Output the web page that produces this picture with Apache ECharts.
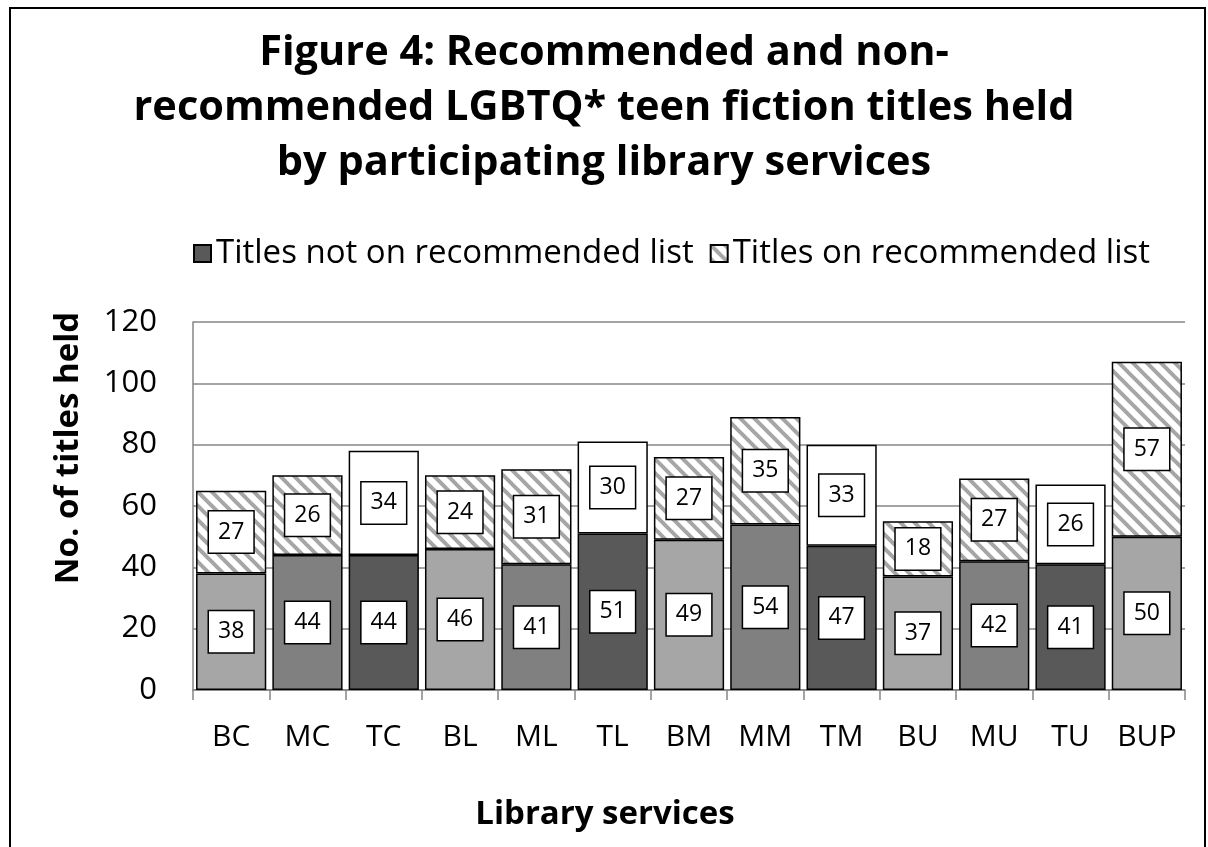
<!DOCTYPE html>
<html>
<head>
<meta charset="utf-8">
<script src="https://cdn.jsdelivr.net/npm/echarts@6/dist/echarts.min.js"></script>
<style>
  html, body { margin: 0; padding: 0; background: #fff; }
  #chart { width: 1208px; height: 847px; }
</style>
</head>
<body>
<div id="chart"></div>
<script>
// data
const categories = ["BC", "MC", "TC", "BL", "ML", "TL", "BM", "MM", "TM", "BU", "MU", "TU", "BUP"];
const notRecommended = [38, 44, 44, 46, 41, 51, 49, 54, 47, 37, 42, 41, 50];
const recommended = [27, 26, 34, 24, 31, 30, 27, 35, 33, 18, 27, 26, 57];
const yTicks = [0, 20, 40, 60, 80, 100, 120];

const FONT = "Open Sans";
const shades = { B: "#a6a6a6", M: "#808080", T: "#595959" };

// diagonal stripe fill for the top segments
function makeHatch() {
  const size = 14;
  const c = document.createElement("canvas");
  c.width = size;
  c.height = size;
  const ctx = c.getContext("2d");
  ctx.fillStyle = "#fff";
  ctx.fillRect(0, 0, size, size);
  ctx.strokeStyle = "#a6a6a6";
  ctx.lineWidth = 4;
  for (let x = -size; x <= size; x += size) {
    ctx.beginPath();
    ctx.moveTo(x - 2, -2);
    ctx.lineTo(x + size + 2, size + 2);
    ctx.stroke();
  }
  return c;
}
const hatch = { image: makeHatch(), repeat: "repeat" };

const labelStyle = {
  show: true,
  position: "inside",
  color: "#000",
  fontFamily: FONT,
  fontSize: 23,
  lineHeight: 23,
  backgroundColor: "#fff",
  borderColor: "#000",
  borderWidth: 1.5,
  padding: [9, 9, 9, 9],
};

var myChart = echarts.init(document.getElementById("chart"));
myChart.setOption({
  animation: false,
  backgroundColor: "#fff",
  title: {
    text: "Figure 4: Recommended and non-\nrecommended LGBTQ* teen fiction titles held\nby participating library services",
    left: "center",
    top: 21,
    textStyle: {
      fontFamily: FONT,
      fontWeight: "bold",
      fontSize: 41.5,
      lineHeight: 55,
      color: "#000",
    },
  },
  legend: {
    top: 232,
    left: 188,
    itemWidth: 17,
    itemHeight: 17,
    itemGap: 16,
    icon: "rect",
    textStyle: { fontFamily: FONT, fontSize: 33, color: "#000" },
    data: ["Titles not on recommended list", "Titles on recommended list"],
  },
  graphic: [
    {
      type: "rect",
      shape: { x: 10, y: 8, width: 1195, height: 900 },
      style: { fill: null, stroke: "#000", lineWidth: 2 },
      silent: true,
    },
  ],
  grid: {
    left: 193,
    right: 23,
    top: 322,
    bottom: 157,
  },
  xAxis: {
    type: "category",
    data: categories,
    name: "Library services",
    nameLocation: "middle",
    nameGap: 108,
    nameTextStyle: {
      fontFamily: FONT,
      fontWeight: "bold",
      fontSize: 33,
      color: "#000",
      padding: [0, 168, 0, 0],
    },
    axisLine: { lineStyle: { color: "#868686", width: 1.5 } },
    axisTick: { show: true, length: 10, interval: 0, lineStyle: { color: "#868686", width: 1.5 } },
    axisLabel: { fontFamily: FONT, fontSize: 30, color: "#000", margin: 32, interval: 0 },
  },
  yAxis: {
    type: "value",
    min: yTicks[0],
    max: yTicks[yTicks.length - 1],
    interval: 20,
    name: "No. of titles held",
    nameLocation: "middle",
    nameGap: 108,
    nameTextStyle: {
      fontFamily: FONT,
      fontWeight: "bold",
      fontSize: 33,
      color: "#000",
      padding: [0, 0, 0, 116],
    },
    axisLine: { show: true, lineStyle: { color: "#868686", width: 1.5 } },
    axisTick: { show: false },
    splitLine: { lineStyle: { color: "#868686", width: 1.5 } },
    axisLabel: { fontFamily: FONT, fontSize: 31, color: "#000", margin: 36 },
  },
  series: [
    {
      name: "Titles not on recommended list",
      type: "bar",
      stack: "total",
      barCategoryGap: "8%",
      itemStyle: { color: "#595959", borderColor: "#000", borderWidth: 1.5 },
      label: labelStyle,
      data: notRecommended.map((v, i) => ({
        value: v,
        itemStyle: { color: shades[categories[i][0]] },
      })),
    },
    {
      name: "Titles on recommended list",
      type: "bar",
      stack: "total",
      barCategoryGap: "8%",
      itemStyle: { color: hatch, borderColor: "#000", borderWidth: 1.5 },
      label: labelStyle,
      data: recommended.map((v, i) => ({
        value: v,
        itemStyle: { color: categories[i][0] === "T" ? "#fff" : hatch },
      })),
    },
  ],
});
</script>
</body>
</html>
